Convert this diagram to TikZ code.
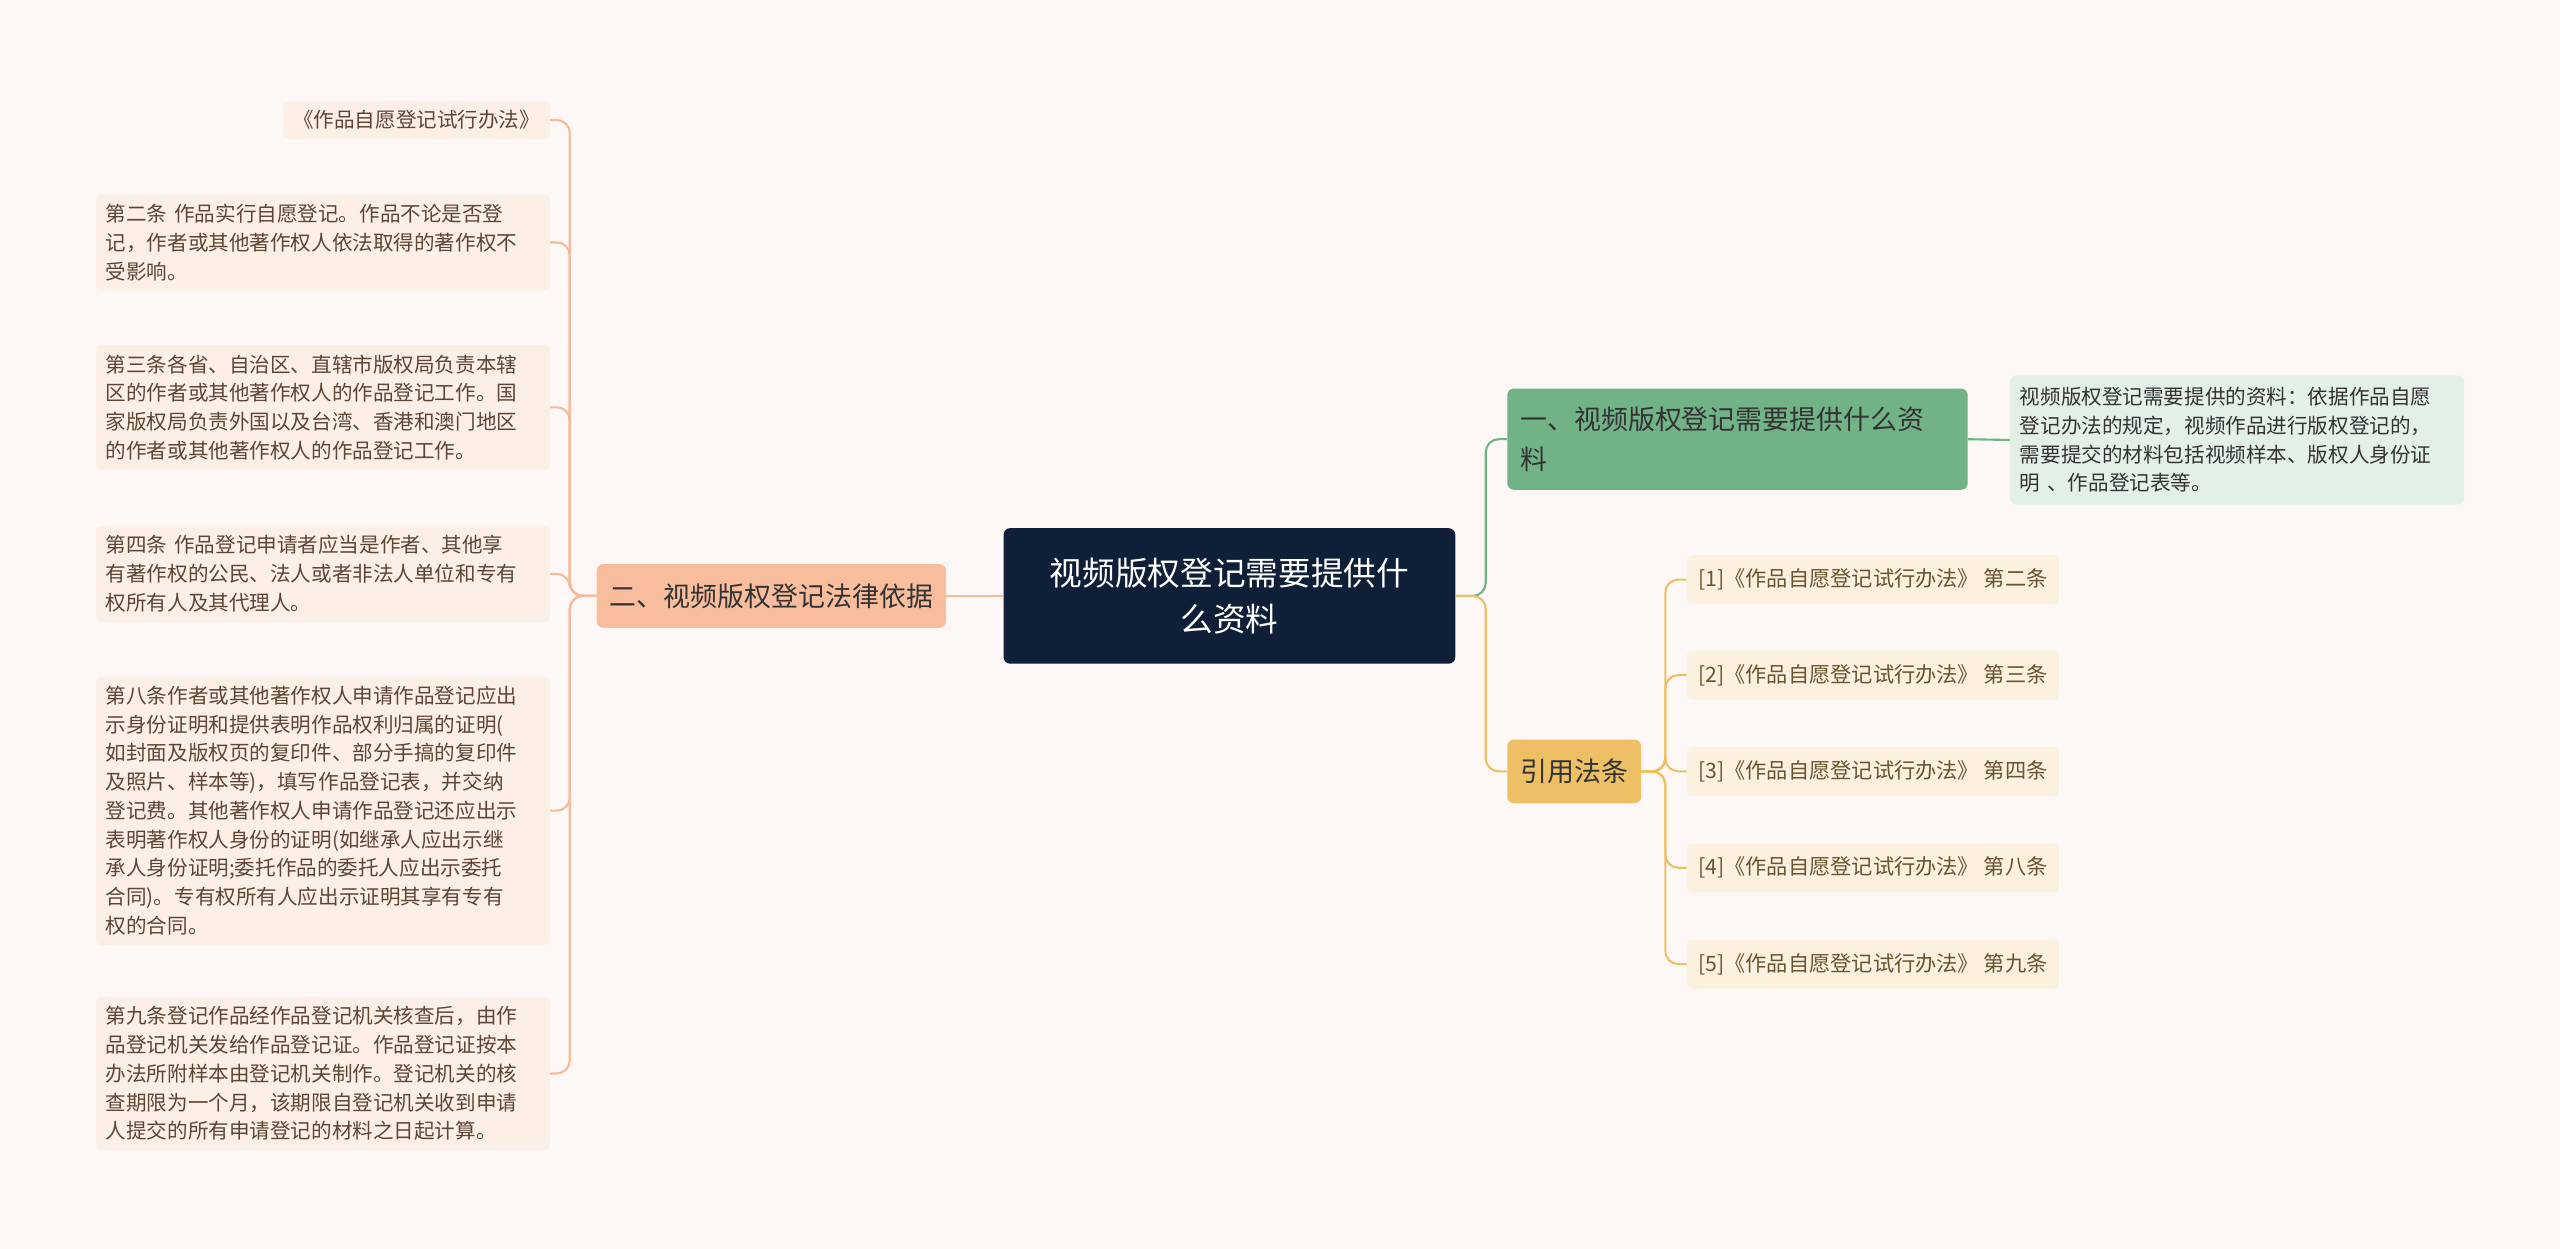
\documentclass[tikz,border=0pt]{standalone}
\usepackage{fontspec}
\setmainfont{Noto Sans CJK SC}
\definecolor{bg}{HTML}{FDF8F6}
\definecolor{leafLc}{HTML}{FCEFE6}
\definecolor{leafRc}{HTML}{FCF1DF}
\definecolor{leafT}{HTML}{5E4535}
\definecolor{refT}{HTML}{6A5330}
\definecolor{lineL}{HTML}{F5BC9C}
\definecolor{brL}{HTML}{F8BD9D}
\definecolor{lineG}{HTML}{72B287}
\definecolor{lineY}{HTML}{EEC066}
\definecolor{navy}{HTML}{0F1F38}
\definecolor{gl}{HTML}{E3F0E6}
\begin{document}
\begin{tikzpicture}[x=1pt,y=-1pt,
  leafL/.style={fill=leafLc,rounded corners=3,anchor=east,text width=266pt,align=left,inner sep=6pt,font=\fontsize{12.6}{17.6}\selectfont,text=leafT},
  leafR/.style={fill=leafRc,rounded corners=3,anchor=west,inner sep=7pt,font=\fontsize{13}{17}\selectfont,text=refT,minimum height=30pt},
  branch/.style={rounded corners=4,inner sep=8pt,font=\fontsize{16.5}{24}\selectfont,text=black!80},
  lnL/.style={draw=lineL,line width=1.3pt,rounded corners=8},
  lnG/.style={draw=lineG,line width=1.3pt,rounded corners=8},
  lnY/.style={draw=lineY,line width=1.3pt,rounded corners=8}]
\fill[bg] (0,0) rectangle (1568,765);
\useasboundingbox (0,0) rectangle (1568,765);

\node[fill=navy,rounded corners=4,text=white,align=center,text width=270pt,minimum height=83pt,font=\fontsize{20}{28}\selectfont] (c) at (753,365) {视频版权登记需要提供什\\么资料};

\node[branch,fill=brL,minimum height=39pt] (b2) at (472.5,365) {二、视频版权登记法律依据};

\node[leafL,text width=] (l1) at (337,73.5) {《作品自愿登记试行办法》};
\node[leafL] (l2) at (337,148.5) {第二条 作品实行自愿登记。作品不论是否登\\记，作者或其他著作权人依法取得的著作权不\\受影响。};
\node[leafL] (l3) at (337,249.5) {第三条各省、自治区、直辖市版权局负责本辖\\区的作者或其他著作权人的作品登记工作。国\\家版权局负责外国以及台湾、香港和澳门地区\\的作者或其他著作权人的作品登记工作。};
\node[leafL] (l4) at (337,351.5) {第四条 作品登记申请者应当是作者、其他享\\有著作权的公民、法人或者非法人单位和专有\\权所有人及其代理人。};
\node[leafL] (l5) at (337,496.5) {第八条作者或其他著作权人申请作品登记应出\\示身份证明和提供表明作品权利归属的证明(\\如封面及版权页的复印件、部分手搞的复印件\\及照片、样本等)，填写作品登记表，并交纳\\登记费。其他著作权人申请作品登记还应出示\\表明著作权人身份的证明(如继承人应出示继\\承人身份证明;委托作品的委托人应出示委托\\合同)。专有权所有人应出示证明其享有专有\\权的合同。};
\node[leafL] (l6) at (337,657.5) {第九条登记作品经作品登记机关核查后，由作\\品登记机关发给作品登记证。作品登记证按本\\办法所附样本由登记机关制作。登记机关的核\\查期限为一个月，该期限自登记机关收到申请\\人提交的所有申请登记的材料之日起计算。};
\foreach \n in {l1,l2,l3,l4,l5,l6}
  \draw[lnL] (b2.west) -- (349,365) |- (\n.east);
\draw[lnL] (c.west) -- (b2.east);

\node[branch,fill=lineG,anchor=west,text width=266pt,align=left,minimum height=62pt] (b1) at (923,269) {一、视频版权登记需要提供什么资\\料};
\node[fill=gl,rounded corners=3,anchor=west,text width=266pt,align=left,inner sep=6pt,font=\fontsize{12.6}{17.6}\selectfont,text=black!80,minimum height=79pt] (r1) at (1231,269.5) {视频版权登记需要提供的资料：依据作品自愿\\登记办法的规定，视频作品进行版权登记的，\\需要提交的材料包括视频样本、版权人身份证\\明 、作品登记表等。};
\draw[lnG] (b1.east) -- (r1.west);

\node[branch,fill=lineY,anchor=west,minimum height=39pt] (b3) at (923,472.5) {引用法条};
\node[leafR] (f1) at (1033,355) {[1]《作品自愿登记试行办法》 第二条};
\node[leafR] (f2) at (1033,413.5) {[2]《作品自愿登记试行办法》 第三条};
\node[leafR] (f3) at (1033,472.5) {[3]《作品自愿登记试行办法》 第四条};
\node[leafR] (f4) at (1033,531.5) {[4]《作品自愿登记试行办法》 第八条};
\node[leafR] (f5) at (1033,590.5) {[5]《作品自愿登记试行办法》 第九条};
\foreach \n in {f1,f2,f3,f4,f5}
  \draw[lnY] (b3.east) -- (1020,472.5) |- (\n.west);

\draw[lnG] (c.east) -- (910,365) |- (b1.west);
\draw[lnY] (c.east) -- (910,365) |- (b3.west);
\end{tikzpicture}
\end{document}
